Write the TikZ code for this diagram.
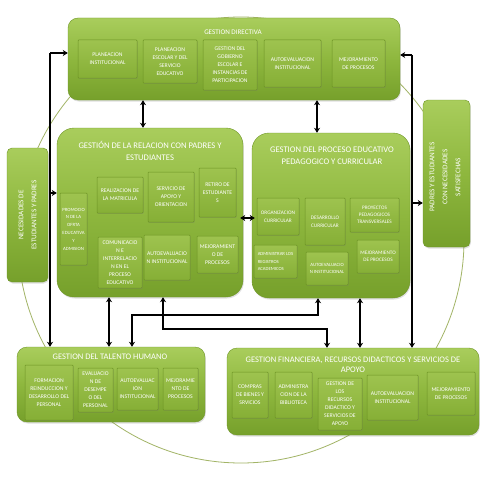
\documentclass[tikz,border=0pt]{standalone}
\usepackage{fontspec}
\setmainfont{Carlito}
\usetikzlibrary{arrows.meta,shadows,calc}
\definecolor{gtop}{HTML}{A9CD5C}
\definecolor{gmid}{HTML}{8EB73E}
\definecolor{gbot}{HTML}{76A02B}
\definecolor{gedge}{HTML}{6E9626}
\definecolor{itop}{HTML}{9EC34F}
\definecolor{ibot}{HTML}{86AF36}
\definecolor{iedge}{HTML}{6C9324}
\definecolor{ring}{HTML}{A2B466}
\begin{document}
\begin{tikzpicture}[x=1pt,y=-1pt,
  outer/.style={rectangle, rounded corners=10pt, top color=gtop, bottom color=gbot, middle color=gmid, draw=gedge, line width=0.4pt,
    drop shadow={opacity=0.25, shadow xshift=0.8pt, shadow yshift=-1.5pt}},
  inner/.style={rectangle, rounded corners=0.8pt, top color=itop, bottom color=ibot, draw=iedge, line width=0.5pt,
    text=white, align=center, font=\fontsize{5.7}{8}\selectfont, inner sep=1pt,
    drop shadow={opacity=0.3, shadow xshift=0.6pt, shadow yshift=-0.9pt}},
  ttl/.style={text=white, align=center, font=\fontsize{8.6}{11.5}\selectfont, inner sep=0pt},
  sidetext/.style={text=white, align=center, font=\fontsize{7.2}{13}\selectfont, inner sep=0pt, rotate=90},
  arr/.style={line width=1.3pt, -{Stealth[length=5pt,width=6pt]}},
  darr/.style={line width=1.3pt, {Stealth[length=5pt,width=6pt]}-{Stealth[length=5pt,width=6pt]}}]
\useasboundingbox (0,0) rectangle (495,495);
\fill[white] (0,0) rectangle (495,495);
% background ring
\draw[ring, line width=0.8pt] (241,240) circle [radius=223];

% ---- GESTION DIRECTIVA
\node[outer, minimum width=332pt, minimum height=82pt] (D) at (234,59) {};
\node[ttl, font=\fontsize{7.1}{9}\selectfont] (Dt) at (233,32) {GESTION DIRECTIVA};
\node[inner, minimum width=59pt, minimum height=38pt] (d1) at (107.5,59) {PLANEACION\\INSTITUCIONAL};
\node[inner, minimum width=54pt, minimum height=43pt] (d2) at (170,61.5) {PLANEACION\\ESCOLAR Y DEL\\SERVICIO\\EDUCATIVO};
\node[inner, minimum width=54pt, minimum height=50pt] (d3) at (230,65) {GESTION DEL\\GOBIERNO\\ESCOLAR E\\INSTANCIAS DE\\PARTICIPACION};
\node[inner, minimum width=57pt, minimum height=47pt] (d4) at (292.5,63.5) {AUTOEVALUACION\\INSTITUCIONAL};
\node[inner, minimum width=53pt, minimum height=47pt] (d5) at (358.5,63.5) {MEJORAMIENTO\\DE PROCESOS};

% ---- RELACION CON PADRES
\node[outer, rounded corners=17pt, minimum width=186pt, minimum height=169pt] (P) at (150,212.5) {};
\node[ttl] (Pt) at (150,151) {GESTIÓN DE LA RELACION CON PADRES Y\\ESTUDIANTES};
\node[inner, minimum width=27pt, minimum height=72pt, font=\fontsize{4.8}{7.8}\selectfont] (p1) at (73.5,229) {PROMOCIO\\N DE LA\\OFRTA\\EDUCATIVA\\Y\\ADMISION};
\node[inner, minimum width=46pt, minimum height=36pt] (p2) at (120,195) {REALIZACION DE\\LA MATRICULA};
\node[inner, minimum width=46pt, minimum height=50pt] (p3) at (171,197) {SERVICIO DE\\APOYO Y\\ORIENTACION};
\node[inner, minimum width=37pt, minimum height=49pt] (p4) at (217.5,192.5) {RETIRO DE\\ESTUDIANTE\\S};
\node[inner, minimum width=44pt, minimum height=51pt] (p5) at (120,262.5) {COMUNICACIO\\N E\\INTERRELACIO\\N EN EL\\PROCESO\\EDUCATIVO};
\node[inner, minimum width=46pt, minimum height=45pt] (p6) at (167,257.5) {AUTOEVALUACIO\\N INSTITUCIONAL};
\node[inner, minimum width=41pt, minimum height=37pt] (p7) at (217.5,254.5) {MEJORAMIENT\\O DE\\PROCESOS};

% ---- PROCESO EDUCATIVO
\node[outer, rounded corners=17pt, minimum width=158pt, minimum height=165pt] (C) at (331,215.5) {};
\node[ttl] (Ct) at (332,155.5) {GESTION DEL PROCESO EDUCATIVO\\PEDAGOGICO Y CURRICULAR};
\node[inner, font=\fontsize{5.3}{7.8}\selectfont, minimum width=42pt, minimum height=37pt] (c1) at (278,216.5) {ORGANIZACION\\CURRICULAR};
\node[inner, font=\fontsize{5.3}{7.8}\selectfont, minimum width=40pt, minimum height=47pt] (c2) at (325,221.5) {DESARROLLO\\CURRICULAR};
\node[inner, font=\fontsize{5.2}{7.2}\selectfont, minimum width=49pt, minimum height=34pt] (c3) at (374.5,215) {PROYECTOS\\PEDAGOGICOS\\TRANSVERSALES};
\node[inner, font=\fontsize{4.7}{7.2}\selectfont, align=left, minimum width=43pt, minimum height=33pt] (c4) at (275.5,261.5) {ADMINISTRAR LOS\\REGISTROS\\ACADEMICOS};
\node[inner, font=\fontsize{4.8}{7.2}\selectfont, minimum width=42pt, minimum height=33pt] (c5) at (327,268.5) {AUTOEVALUACIO\\N INSTITUCIONAL};
\node[inner, font=\fontsize{5.2}{7.2}\selectfont, minimum width=42pt, minimum height=33pt] (c6) at (378,256.5) {MEJORAMIENTO\\DE PROCESOS};

% ---- TALENTO HUMANO
\node[outer, minimum width=188pt, minimum height=75pt] (T) at (111,384.5) {};
\node[ttl, font=\fontsize{8.5}{11}\selectfont] (Tt) at (110,357) {GESTION DEL TALENTO HUMANO};
\node[inner, minimum width=48pt, minimum height=55pt] (t1) at (49,392.5) {FORMACION\\REINDUCCION Y\\DESARROLLO DEL\\PERSONAL};
\node[inner, minimum width=35pt, minimum height=44pt] (t2) at (95.5,390) {EVALUACIO\\N DE\\DESEMPE\\O DEL\\PERSONAL};
\node[inner, minimum width=41pt, minimum height=42pt] (t3) at (137.5,389) {AUTOEVALUAC\\ION\\INSTITUCIONAL};
\node[inner, minimum width=35pt, minimum height=42pt] (t4) at (180.5,389) {MEJORAMIE\\NTO DE\\PROCESOS};

% ---- FINANCIERA
\node[outer, minimum width=252pt, minimum height=87pt] (F) at (353,391.5) {};
\node[ttl, font=\fontsize{8.5}{10.5}\selectfont] (Ft) at (353,365) {GESTION FINANCIERA, RECURSOS DIDACTICOS Y SERVICIOS DE\\APOYO};
\node[inner, minimum width=36pt, minimum height=46pt] (f1) at (250,395) {COMPRAS\\DE BIENES Y\\SRVICIOS};
\node[inner, minimum width=37pt, minimum height=46pt] (f2) at (293.5,395) {ADMINISTRA\\CION DE LA\\BIBLIOTECA};
\node[inner, minimum width=44pt, minimum height=52pt] (f3) at (340,404) {GESTION DE\\LOS\\RECURSOS\\DIDACTICO Y\\SERVICIOS DE\\APOYO};
\node[inner, minimum width=51pt, minimum height=45pt] (f4) at (392.5,397.5) {AUTOEVALUACION\\INSTITUCIONAL};
\node[inner, minimum width=48pt, minimum height=43pt] (f5) at (451,393.5) {MEJORAMIENTO\\DE PROCESOS};

% ---- side boxes
\node[outer, rounded corners=5pt, minimum width=41pt, minimum height=134pt] (N) at (27.5,215) {};
\node[sidetext] (Nt) at (N.center) {NECESIDADES DE\\ESTUDIANTES Y PADRES};
\node[outer, rounded corners=5pt, minimum width=47pt, minimum height=147pt] (S) at (446.5,173.5) {};
\node[sidetext] (St) at (445,177) {PADRES Y ESTUDIANTES\\CON NECESIDADES\\SATISFECHAS};

% ---- connectors
\coordinate (L1) at (50,53);
\coordinate (L2) at (50,193);
\draw[arr] (L1) -- (L1 -| D.west);
\draw[arr] (L1) -- (L1 |- T.north);
\draw[arr] (L2) -- (L2 -| P.west);
\coordinate (R1) at (412,55);
\coordinate (R2) at (412,203);
\draw[arr] (R1) -- (R1 -| D.east);
\draw[arr] (R1) -- (R1 |- F.north);
\draw[arr] (R2) -- (R2 -| S.west);

\coordinate (v1) at (143,0);
\coordinate (v2) at (317,0);
\draw[darr] (D.south -| v1) -- (P.north -| v1);
\draw[darr] (D.south -| v2) -- (C.north -| v2);
\coordinate (h1) at (0,218);
\draw[darr] ($(P.east |- h1)+(-3,0)$) -- ($(C.west |- h1)+(3,0)$);

\coordinate (v3) at (109,0);
\coordinate (v4) at (163,0);
\coordinate (v5) at (318,0);
\coordinate (v6) at (360,0);
\coordinate (k1) at (327,329);
\coordinate (k2) at (132,315);
\draw[darr] (P.south -| v3) -- (T.north -| v3);
\draw[darr] (P.south -| v4) |- (k1) -- (k1 |- F.north);
\draw[darr] (C.south -| v5) |- (k2) -- (k2 |- T.north);
\draw[darr] (C.south -| v6) -- (F.north -| v6);
\end{tikzpicture}
\end{document}
